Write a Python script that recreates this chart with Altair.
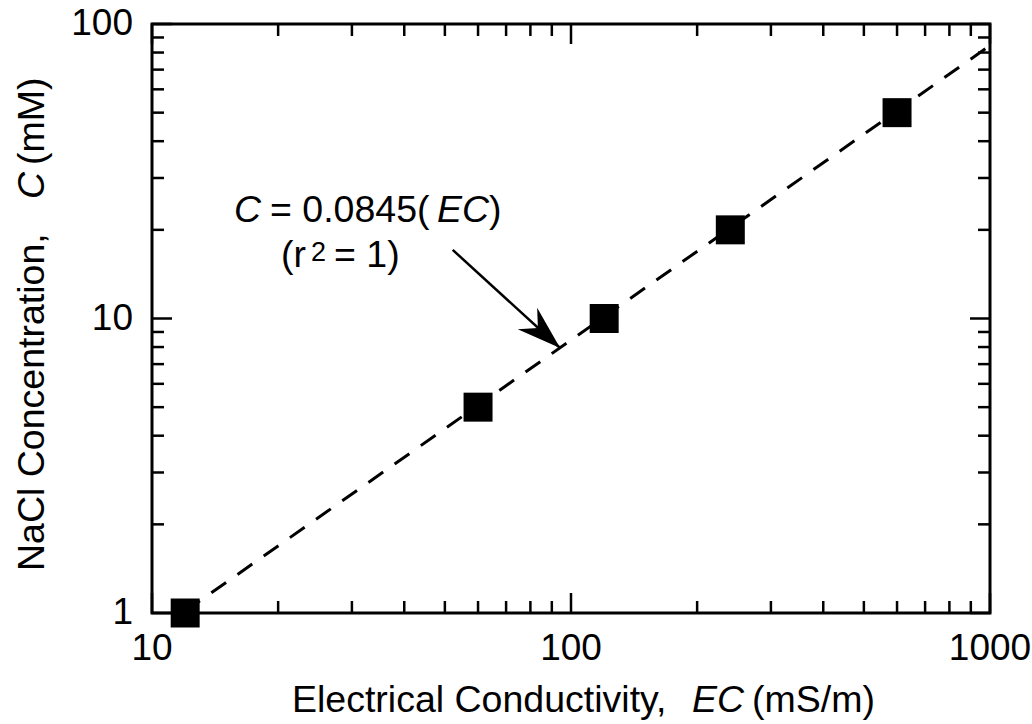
import altair as alt
import pandas as pd

# Calibration measurements: electrical conductivity vs NaCl concentration
ec_values = [12, 60, 120, 240, 600]      # mS/m
conc_values = [1, 5, 10, 20, 50]         # mM

# Linear fit through the origin: C = 0.0845 (EC)
fit_slope = 0.0845
fit_ec = [12, 1000]

# Log-axis tick positions and their labels
x_major = [10, 100, 1000]
x_major_labels = ["10", "100", "1000"]
x_minor = [20, 30, 40, 50, 60, 70, 80, 90, 200, 300, 400, 500, 600, 700, 800, 900]
y_major = [1, 10, 100]
y_major_labels = ["1", "10", "100"]
y_minor = [2, 3, 4, 5, 6, 7, 8, 9, 20, 30, 40, 50, 60, 70, 80, 90]

# Annotation arrow (tail -> head, data coordinates)
arrow_ec = [52.2, 94.2]
arrow_c = [17.1, 7.94]

FONT = "Liberation Sans"
W, H = 838, 589
TITLE_SIZE = 37.5
TICK_SIZE = 37

xs = alt.Scale(type="log", domain=[10, 1000], nice=False)
ys = alt.Scale(type="log", domain=[1, 100], nice=False)

points_df = pd.DataFrame({"ec": ec_values, "c": conc_values})
fit_df = pd.DataFrame({"ec": fit_ec, "c": [fit_slope * v for v in fit_ec]})
arrow_df = pd.DataFrame({"ec": arrow_ec, "c": arrow_c})
head_df = arrow_df.tail(1)

X = lambda f: alt.X(f, scale=xs, axis=None)
Y = lambda f: alt.Y(f, scale=ys, axis=None)

points = alt.Chart(points_df).mark_square(
    size=840, color="black", opacity=1, filled=True
).encode(x=X("ec:Q"), y=Y("c:Q"))

fit = alt.Chart(fit_df).mark_line(
    color="black", strokeWidth=3, strokeDash=[18, 14]
).encode(x=X("ec:Q"), y=Y("c:Q"))

shaft = alt.Chart(arrow_df).mark_line(color="black", strokeWidth=2.5).encode(
    x=X("ec:Q"), y=Y("c:Q"))

head = alt.Chart(head_df).mark_point(
    shape="M0,0 L-1,-0.33 L-0.68,0 L-1,0.33 Z",
    size=7744, angle=42, filled=True, color="black", opacity=1, strokeWidth=0,
).encode(x=X("ec:Q"), y=Y("c:Q"))


def x_ticks(values, length):
    df = pd.DataFrame({"v": values})
    bottom = alt.Chart(df).mark_rule(color="black", strokeWidth=2.5).encode(
        x=X("v:Q"), y=alt.value(H), y2=alt.value(H - length))
    top = alt.Chart(df).mark_rule(color="black", strokeWidth=2.5).encode(
        x=X("v:Q"), y=alt.value(0), y2=alt.value(length))
    return [bottom, top]


def y_ticks(values, length):
    df = pd.DataFrame({"v": values})
    left = alt.Chart(df).mark_rule(color="black", strokeWidth=2.5).encode(
        y=Y("v:Q"), x=alt.value(0), x2=alt.value(length))
    right = alt.Chart(df).mark_rule(color="black", strokeWidth=2.5).encode(
        y=Y("v:Q"), x=alt.value(W), x2=alt.value(W - length))
    return [left, right]


# Tick labels drawn through the same log scales
x_labels = alt.Chart(pd.DataFrame({"v": x_major, "t": x_major_labels})).mark_text(
    font=FONT, fontSize=TICK_SIZE, color="black", align="center", baseline="alphabetic"
).encode(x=X("v:Q"), y=alt.value(H + 47), text="t:N")

y_labels = alt.Chart(pd.DataFrame({"v": y_major, "t": y_major_labels})).mark_text(
    font=FONT, fontSize=TICK_SIZE, color="black", align="right", baseline="middle"
).encode(y=Y("v:Q"), x=alt.value(-19), text="t:N")

_one = pd.DataFrame({"_": [0]})


def label(text, x, y, italic=False, size=TITLE_SIZE, angle=0):
    return alt.Chart(_one).mark_text(
        text=text, align="left", baseline="alphabetic", font=FONT,
        fontSize=size, fontStyle="italic" if italic else "normal",
        color="black", angle=angle,
    ).encode(x=alt.value(x), y=alt.value(y))


texts = [
    # fit equation
    label("C", 82, 198, italic=True),
    label("= 0.0845(", 118, 198),
    label("EC", 285, 198, italic=True),
    label(")", 337, 198),
    label("(r", 129, 243),
    label("2", 159, 237, size=27),
    label("= 1)", 182, 243),
    # x-axis title
    label("Electrical Conductivity,", 140, 688),
    label("EC", 540, 688, italic=True),
    label("(mS/m)", 600, 688),
    # y-axis title
    label("NaCl Concentration,", -108, 547, angle=270),
    label("C", -108, 175, italic=True, angle=270),
    label("(mM)", -108, 141, angle=270),
]

layers = (
    x_ticks(x_minor, 12) + x_ticks(x_major, 20)
    + y_ticks(y_minor, 12) + y_ticks(y_major, 20)
    + [fit, shaft, head, points, x_labels, y_labels] + texts
)

chart = alt.layer(*layers).properties(
    width=W, height=H,
    autosize="none",
    padding={"left": 152, "top": 24, "right": 42, "bottom": 111},
).configure_view(
    stroke="black", strokeWidth=3
)

chart.save("out.html", embed_options={"renderer": "svg", "actions": False})
